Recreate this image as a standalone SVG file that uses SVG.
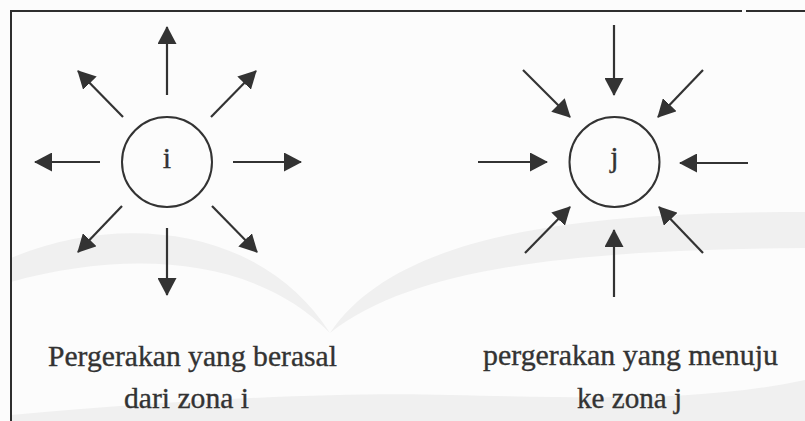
<svg xmlns="http://www.w3.org/2000/svg" width="805" height="421" viewBox="0 0 805 421">
  <style>
    .frame { fill: none; stroke: #2e2e2e; stroke-width: 2; }
    .zone { fill: none; stroke: #333; stroke-width: 2; }
    .flow { stroke: #333; stroke-width: 2.2; fill: none; marker-end: url(#head); }
    .lbl { font-family: "Liberation Serif", "Times New Roman", serif; fill: #333; stroke: #333; stroke-width: 0.35; font-size: 29.5px; }
    .zlbl { font-family: "Liberation Serif", "Times New Roman", serif; fill: #333; stroke: #333; stroke-width: 0.3; font-size: 30px; text-anchor: middle; }
    .mark { fill: #f0f0f0; }
  </style>
  <defs>
    <marker id="head" markerUnits="userSpaceOnUse" markerWidth="18" markerHeight="19" refX="17" refY="9.5" orient="auto">
      <path d="M0,0 L18,9.5 L0,19 z" fill="#333"/>
    </marker>
  </defs>

  <!-- paper background and faint emblem -->
  <rect x="0" y="0" width="805" height="421" fill="#fcfcfc"/>
  <g id="emblem">
    <path class="mark" d="M11,258 C120,212 262,226 330,333 C250,252 120,252 11,282 Z"/>
    <path class="mark" d="M330,333 C400,228 600,212 805,212 L805,248 C600,250 420,262 330,333 Z"/>
    <path class="mark" d="M11,421 L11,415 C200,398 350,392 450,395 C600,398 700,402 805,380 L805,421 Z"/>
  </g>

  <!-- outer frame (open to the right and bottom) -->
  <path class="frame" d="M11,421 V11 H742 M746,11 H805"/>

  <g id="zone-i">
    <circle class="zone" cx="167" cy="162" r="45"/>
    <text class="zlbl" x="167" y="168">i</text>
  </g>
  <g id="zone-j">
    <circle class="zone" cx="614.5" cy="162" r="45"/>
    <text class="zlbl" x="614.5" y="167">j</text>
  </g>

  <g id="connectors">
    <!-- trips leaving zone i -->
    <line class="flow" x1="167" y1="95" x2="167" y2="27"/>
    <line class="flow" x1="123" y1="117" x2="78" y2="71"/>
    <line class="flow" x1="211" y1="117" x2="256" y2="71"/>
    <line class="flow" x1="100" y1="162" x2="35" y2="162"/>
    <line class="flow" x1="233" y1="162" x2="301" y2="162"/>
    <line class="flow" x1="122" y1="206" x2="78" y2="252"/>
    <line class="flow" x1="212" y1="206" x2="257" y2="252"/>
    <line class="flow" x1="167" y1="228" x2="167" y2="295"/>
    <!-- trips arriving at zone j -->
    <line class="flow" x1="614" y1="25" x2="614" y2="95"/>
    <line class="flow" x1="523" y1="70" x2="570" y2="117"/>
    <line class="flow" x1="703" y1="70" x2="658" y2="117"/>
    <line class="flow" x1="478" y1="162" x2="547" y2="162"/>
    <line class="flow" x1="748" y1="163" x2="680" y2="163"/>
    <line class="flow" x1="525" y1="253" x2="570" y2="207"/>
    <line class="flow" x1="703" y1="253" x2="659" y2="207"/>
    <line class="flow" x1="614" y1="297" x2="614" y2="230"/>
  </g>

  <g id="caption-i">
    <text class="lbl" x="48" y="365.5" textLength="289" lengthAdjust="spacingAndGlyphs">Pergerakan yang berasal</text>
    <text class="lbl" x="124" y="408" textLength="125" lengthAdjust="spacingAndGlyphs">dari zona i</text>
  </g>
  <g id="caption-j">
    <text class="lbl" x="483" y="365" textLength="295" lengthAdjust="spacingAndGlyphs">pergerakan yang menuju</text>
    <text class="lbl" x="577" y="408" textLength="105" lengthAdjust="spacingAndGlyphs">ke zona j</text>
  </g>
</svg>
